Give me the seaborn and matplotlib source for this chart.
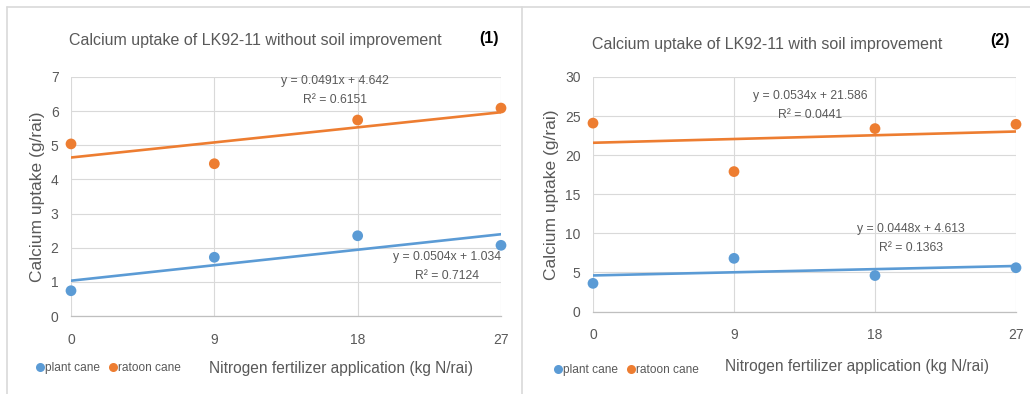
import matplotlib
matplotlib.use("Agg")
import matplotlib.pyplot as plt
from matplotlib.lines import Line2D
import numpy as np
import pandas as pd
import seaborn as sns

# Nitrogen rates (kg N/rai)
nitrogen = [0, 9, 18, 27]

# Calcium uptake (g/rai), without soil improvement
plant_no_soil = [0.74, 1.72, 2.35, 2.07]
ratoon_no_soil = [5.04, 4.46, 5.74, 6.09]

# Calcium uptake (g/rai), with soil improvement
plant_soil = [3.6, 6.8, 4.6, 5.6]
ratoon_soil = [24.1, 17.9, 23.4, 23.95]

# Linear trendlines: slope, intercept, R squared
plant_no_soil_fit = (0.0504, 1.034, 0.7124)
ratoon_no_soil_fit = (0.0491, 4.642, 0.6151)
plant_soil_fit = (0.0448, 4.613, 0.1363)
ratoon_soil_fit = (0.0534, 21.586, 0.0441)

titles = ["Calcium uptake of LK92-11 without soil improvement",
          "Calcium uptake of LK92-11 with soil improvement"]
panel_tags = ["(1)", "(2)"]
series_names = ["plant cane", "ratoon cane"]
x_label = "Nitrogen fertilizer application (kg N/rai)"
y_label = "Calcium uptake (g/rai)"

BLUE = "#5B9BD5"
ORANGE = "#ED7D31"
GRAY = "#595959"
GRID = "#D9D9D9"

sns.set_theme(style="white")
plt.rcParams["font.family"] = ["Liberation Sans", "DejaVu Sans"]

fig = plt.figure(figsize=(10.30, 3.94), dpi=100)
W, H = 1030, 394


def fig_box(x0, x1, y0, y1):
    return [x0 / W, 1 - y1 / H, (x1 - x0) / W, (y1 - y0) / H]


ax1 = fig.add_axes(fig_box(71, 501, 77, 316))
ax2 = fig.add_axes(fig_box(593, 1016, 77, 311.5))

panels = [
    dict(ax=ax1, plant=plant_no_soil, ratoon=ratoon_no_soil,
         pfit=plant_no_soil_fit, rfit=ratoon_no_soil_fit,
         ylim=(0, 7), yticks=np.arange(0, 8, 1),
         title_x=255, title_y=40, tag_x=489, tag_y=38,
         r_txt=(335, 81), p_txt=(447, 257),
         xlab_x=341, xlab_y=368, leg_x=33, leg_y=368),
    dict(ax=ax2, plant=plant_soil, ratoon=ratoon_soil,
         pfit=plant_soil_fit, rfit=ratoon_soil_fit,
         ylim=(0, 30), yticks=np.arange(0, 31, 5),
         title_x=767, title_y=44, tag_x=1000, tag_y=40,
         r_txt=(810, 96), p_txt=(911, 229),
         xlab_x=857, xlab_y=366, leg_x=551, leg_y=370),
]

for i, p in enumerate(panels):
    ax = p["ax"]
    df = pd.DataFrame({
        "N": nitrogen * 2,
        "Ca": list(p["plant"]) + list(p["ratoon"]),
        "series": [series_names[0]] * 4 + [series_names[1]] * 4,
    })
    # trendlines from the stated equations
    xs = np.array([nitrogen[0], nitrogen[-1]])
    lines = pd.DataFrame({
        "N": list(xs) * 2,
        "Ca": list(p["pfit"][0] * xs + p["pfit"][1]) + list(p["rfit"][0] * xs + p["rfit"][1]),
        "series": [series_names[0]] * 2 + [series_names[1]] * 2,
    })
    sns.lineplot(data=lines, x="N", y="Ca", hue="series",
                 palette=[BLUE, ORANGE], linewidth=1.9, legend=False, ax=ax, zorder=3)
    sns.scatterplot(data=df, x="N", y="Ca", hue="series",
                    palette=[BLUE, ORANGE], s=60, edgecolor="none",
                    legend=False, ax=ax, zorder=4, clip_on=False)

    ax.set_xlim(nitrogen[0], nitrogen[-1])
    ax.set_ylim(*p["ylim"])
    ax.set_xticks(nitrogen)
    ax.set_yticks(p["yticks"])
    ax.grid(True, color=GRID, linewidth=0.8)
    ax.set_axisbelow(True)
    for s in ["top", "right", "left"]:
        ax.spines[s].set_visible(False)
    ax.spines["bottom"].set_color("#BFBFBF")
    ax.spines["bottom"].set_linewidth(0.9)
    ax.tick_params(axis="x", length=0, pad=12, labelsize=10, colors=GRAY)
    ax.tick_params(axis="y", length=0, pad=9, labelsize=10, colors=GRAY)
    ax.set_xlabel("")
    ax.set_ylabel(y_label, fontsize=12.5, color=GRAY, labelpad=4, fontweight="medium")

    fig.text(p["title_x"] / W, 1 - p["title_y"] / H, titles[i],
             ha="center", va="center", fontsize=11.5, color=GRAY)
    fig.text(p["tag_x"] / W, 1 - p["tag_y"] / H, panel_tags[i],
             ha="center", va="center", fontsize=11.5, color="black", fontweight="bold")

    for fit, (tx, ty) in [(p["rfit"], p["r_txt"]), (p["pfit"], p["p_txt"])]:
        fig.text(tx / W, 1 - ty / H, f"y = {fit[0]}x + {fit[1]}",
                 ha="center", va="center", fontsize=8.8, color=GRAY)
        fig.text(tx / W, 1 - (ty + 19) / H, f"R² = {fit[2]}",
                 ha="center", va="center", fontsize=8.8, color=GRAY)

    fig.text(p["xlab_x"] / W, 1 - p["xlab_y"] / H, x_label,
             ha="center", va="center", fontsize=11.2, color=GRAY)

    handles = [Line2D([], [], marker="o", linestyle="none", markersize=6.5,
                      markerfacecolor=c, markeredgecolor="none") for c in (BLUE, ORANGE)]
    fig.legend(handles, series_names, loc="center left",
               bbox_to_anchor=(p["leg_x"] / W, 1 - p["leg_y"] / H),
               ncol=2, frameon=False, fontsize=8.6, handletextpad=-0.2,
               handlelength=1.2, columnspacing=0.5, labelcolor=GRAY,
               borderpad=0, borderaxespad=0)

# panel frames
frame_kw = dict(color="#D9D9D9", linewidth=1.2, transform=fig.transFigure)
fig.add_artist(Line2D([7 / W, 1], [1 - 7 / H] * 2, **frame_kw))
fig.add_artist(Line2D([7 / W] * 2, [0, 1 - 7 / H], **frame_kw))
fig.add_artist(Line2D([522 / W] * 2, [0, 1 - 7 / H], **frame_kw))

fig.savefig("out.png", dpi=100, facecolor="white")
